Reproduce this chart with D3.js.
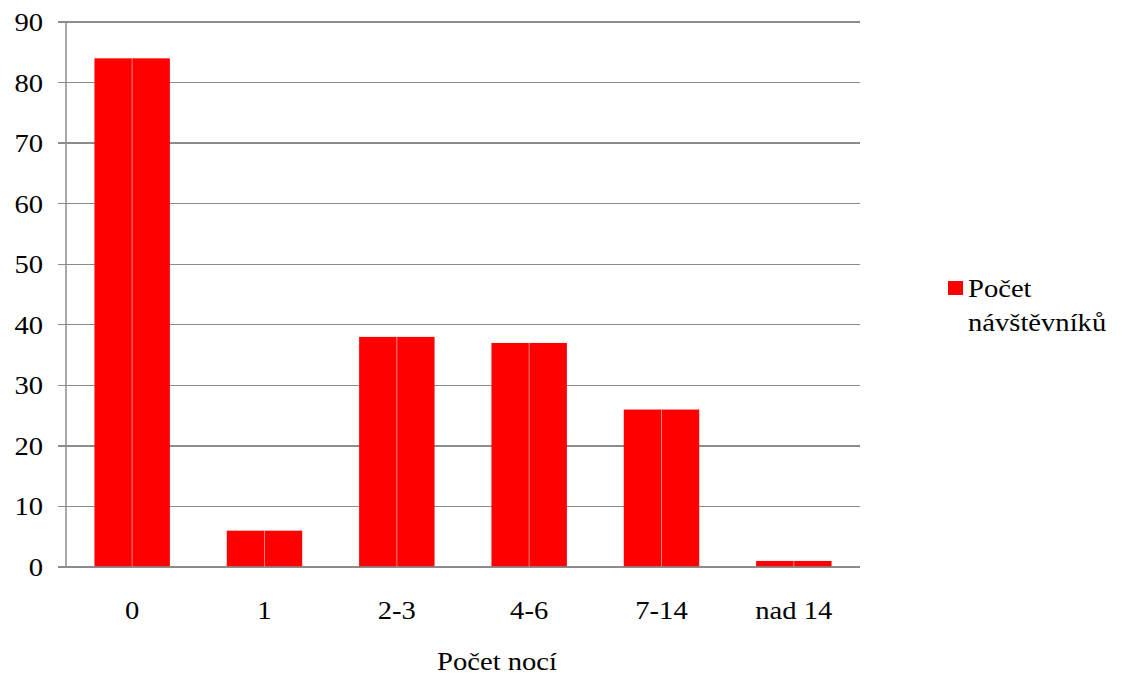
<!DOCTYPE html>
<html><head><meta charset="utf-8">
<script src="https://cdn.jsdelivr.net/npm/d3@7"></script>
<style>body{margin:0;background:#fff}svg{display:block}</style>
</head><body><svg id="c" width="1122" height="679"></svg>
<script>
const categories = ["0","1","2-3","4-6","7-14","nad 14"];
const values = [84,6,38,37,26,1];
const yTicks = [0,10,20,30,40,50,60,70,80,90];
const seriesName = ["Počet","návštěvníků"];
const xTitle = "Počet nocí";

const svg = d3.select("#c");
const FONT = "Liberation Serif, Times New Roman, serif";
const FS = 26, SX = 1.1;
const L = 66, R = 860, T = 22, B = 567;
const x = d3.scaleBand().domain(categories).range([L, R]).paddingInner(0.43).paddingOuter(0.215);
const y = d3.scaleLinear().domain([0,90]).range([B, T]);

// gridlines
svg.append("g").selectAll("line").data(yTicks).join("line")
  .attr("x1", L-8).attr("x2", R).attr("y1", d=>y(d)).attr("y2", d=>y(d))
  .attr("stroke", "#8c8c8c").attr("stroke-width", 1.3).attr("shape-rendering","crispEdges");

// bars
const g = svg.append("g");
g.selectAll("rect").data(values).join("rect")
  .attr("x", (d,i)=>x(categories[i])).attr("width", x.bandwidth())
  .attr("y", d=>y(d)).attr("height", d=>B-y(d)).attr("fill", "#ff0000");
g.selectAll("line").data(values).join("line")
  .attr("x1", (d,i)=>x(categories[i])+x.bandwidth()/2).attr("x2", (d,i)=>x(categories[i])+x.bandwidth()/2)
  .attr("y1", d=>y(d)).attr("y2", B).attr("stroke", "#ff8080").attr("stroke-width", 1);

// axes lines
svg.append("line").attr("x1", L).attr("x2", L).attr("y1", T).attr("y2", B)
  .attr("stroke", "#8c8c8c").attr("stroke-width", 1.5);
svg.append("line").attr("x1", L-8).attr("x2", R).attr("y1", B).attr("y2", B)
  .attr("stroke", "#8c8c8c").attr("stroke-width", 1.5);

function txt(sel, fx, fy){
  return sel.attr("font-family", FONT).attr("font-size", FS).attr("fill", "#000")
    .attr("transform", (d,i)=>`translate(${fx(d,i)},${fy(d,i)}) scale(${SX},1)`);
}

// y labels
txt(svg.append("g").selectAll("text").data(yTicks).join("text")
  .attr("text-anchor","end").text(d=>d), ()=>43, d=>y(d)+9);

// x labels
txt(svg.append("g").selectAll("text").data(categories).join("text")
  .attr("text-anchor","middle").text(d=>d), d=>x(d)+x.bandwidth()/2, ()=>619);

txt(svg.append("text").attr("text-anchor","middle").text(xTitle), ()=>497, ()=>670);

// legend
svg.append("rect").attr("x", 948).attr("y", 281).attr("width", 15).attr("height", 14).attr("fill", "#ff0000");
txt(svg.append("text").text(seriesName[0]), ()=>968, ()=>297);
txt(svg.append("text").text(seriesName[1]), ()=>968, ()=>331);
</script></body></html>
